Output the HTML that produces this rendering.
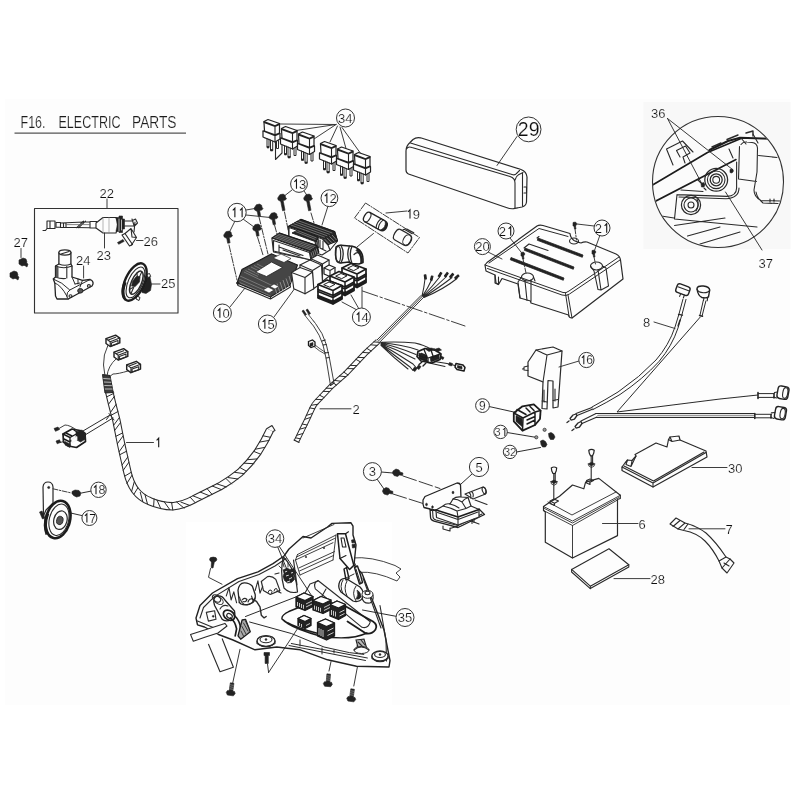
<!DOCTYPE html>
<html><head><meta charset="utf-8"><title>F16. ELECTRIC PARTS</title>
<style>
html,body{margin:0;padding:0;background:#fff;}
body{width:800px;height:800px;overflow:hidden;font-family:"Liberation Sans",sans-serif;}
svg{display:block;position:absolute;left:0;top:0;}
svg text{font-family:"Liberation Sans",sans-serif;fill:#111;stroke:#fdfdfd;stroke-width:.18px;}
.l{fill:none;stroke:#2a2a2a;stroke-width:1.1;stroke-linecap:round;stroke-linejoin:round;}
.t{fill:none;stroke:#333;stroke-width:.95;stroke-linecap:round;stroke-linejoin:round;}
.b{fill:none;stroke:#1c1c1c;stroke-width:1.4;stroke-linecap:round;stroke-linejoin:round;}
.w{fill:#fdfdfd;stroke:#2a2a2a;stroke-width:1.15;stroke-linejoin:round;}
.k{fill:#222;stroke:#222;stroke-width:.6;stroke-linejoin:round;}
.g{fill:#999;stroke:#333;stroke-width:.8;}
.n{font-size:13px;}
.c{fill:#fdfdfd;stroke:#333;stroke-width:1;}
</style></head>
<body>
<svg width="800" height="800" viewBox="0 0 800 800">
<rect x="0" y="0" width="800" height="800" fill="#ffffff"/>
<rect x="5" y="99" width="785" height="606" fill="#fdfdfd"/>
<filter id="soft" x="0" y="0" width="800" height="800" filterUnits="userSpaceOnUse"><feGaussianBlur stdDeviation="0.38"/></filter>
<g filter="url(#soft)">
<!--TITLE-->
<g id="title" style="font-size:16.3px;stroke-width:.3px">
<text x="20.500" y="127.800" textLength="25" lengthAdjust="spacingAndGlyphs" style="fill:#1c1c1c">F16.</text>
<text x="58.500" y="127.800" textLength="62" lengthAdjust="spacingAndGlyphs" style="fill:#1c1c1c">ELECTRIC</text>
<text x="132" y="127.800" textLength="44.500" lengthAdjust="spacingAndGlyphs" style="fill:#1c1c1c">PARTS</text>
<line x1="14.500" y1="133.200" x2="186" y2="133.200" stroke="#555" stroke-width="1.200"/>
</g>
<!--BOX22-->
<g id="box22">
<rect class="l" x="34.500" y="208.500" width="143.500" height="104.500" style="stroke:#333;stroke-width:1.100"/>
<line class="t" x1="107" y1="199" x2="107" y2="208"/>
<text class="n" x="99.500" y="197.500">22</text>
<!--27 + screws-->
<text class="n" x="13.500" y="247">27</text>
<line class="t" x1="21" y1="248.500" x2="21" y2="257.500"/>
<path class="k" d="M19,260 l4,-2 3,1 1,3 -2,3 -3,1 -3,-2z M25,262 l3,2 -1,3 -3,-2z"/>
<path class="k" d="M10,273 l4,-2 3,1 1,3 -2,3 -3,1 -3,-2z M16,275 l3,2 -1,3 -3,-2z"/>
<!--23 ignition switch-->
<path class="l" d="M47,221 h8 v7.500 h-8z M47,228.500 l-1.500,2 h-2.500 M50,221 v7.500"/>
<path class="l" d="M56,222.500 H60.500 V223 L90,221.800 V221.500 H97 M56,227.200 H60.500 L90,227.700 V228 H97 M56,222.500 v4.700 M60.500,222.500 v5 M63.500,223 v4.500 M66,223 v4.500 M76.500,227.900 l7,-6.700 M78.500,227.900 l7,-6.700 M90,221.500 v6.500"/>
<path class="l" d="M66,224.600 H90" style="stroke:#666;stroke-width:.8"/>
<path class="w" d="M96,223 L103,217.500 H116 Q119.500,225 116,233 H103 L96,228z"/>
<path class="l" d="M103,217.500 V233 M109,217.500 V233" style="stroke:#888;stroke-width:.6"/>
<path class="k" d="M116,217.500 h3 v-1.500 h3.500 v3 h2 v10 h-2 v3.500 h-3.500 v-1 h-3 q2.500,-7 0,-14z"/>
<path class="l" d="M119,219 v12 M121.500,220 v10" style="stroke:#ddd;stroke-width:.8"/>
<path class="l" d="M124.500,221 h7 l4,-2 2,4 -3,3 h-10 M132,219 l2.500,8 M135,222 l-1,10"/>
<!--26 bracket + screw-->
<path class="w" d="M122,235 l3,-1.500 7.500,11 -3,1.500z"/>
<path class="l" d="M125,233.500 l6,-5 5.500,9 -5,7.500 M131,228.500 l1,8.500 M136.500,237.500 l-4.500,-.5"/>
<path class="k" d="M117.500,242.500 l5.500,-3 1.200,1.800 -5.500,3z"/>
<line class="t" x1="136.500" y1="240.500" x2="143" y2="240.500"/>
<text class="n" x="143.500" y="245.500">26</text>
<line class="t" x1="104.500" y1="233" x2="104.500" y2="248"/>
<text class="n" x="96.500" y="259.500">23</text>
<!--24-->
<text class="n" x="76" y="265">24</text>
<line class="t" x1="83.600" y1="266" x2="83.600" y2="278"/>
<path class="w" d="M55.500,266 L58.900,264 V252.500 H70.900 V264 L72,266 V277 L82.500,280.300 L90,279.500 Q93.500,280.500 93,284 L92,286 L68.300,299 L57,299 L55.500,296 L54.800,283 L53.300,279 L55.500,277z" style="stroke-width:1.300;stroke:#222"/>
<ellipse class="w" cx="64.900" cy="252.500" rx="6" ry="2.600" style="stroke-width:1.200"/>
<path class="l" d="M61,254 l8,-2.600"/>
<path class="l" d="M58.900,264 q6,2.500 12,0 M55.500,266 q8.500,3.500 16.500,0 M66.800,266.500 V278 M55.500,277 q5,2 10,1.500"/>
<path d="M55.800,267 h2.700 v10.500 h-2.700z" fill="#555" stroke="none"/>
<path class="l" d="M53.300,279 Q62,282 69.800,290 L90,279.500 M54.800,283 Q61,285 66.800,296 M66.800,296 Q66.500,292 69.800,290 M66.800,296 Q67,298.500 68.300,299 M72,277 L75,284 M78,279 v5 M75,284 l5,-1 M82.500,280.300 L80,287" style="stroke-width:1"/>
<ellipse class="l" cx="88.900" cy="285.900" rx="1.500" ry="1.300"/>
<ellipse class="l" cx="70.500" cy="296" rx="1.500" ry="1.300"/>
<ellipse cx="80.300" cy="290.800" rx="2.600" ry="2.300" fill="#555" stroke="#222" stroke-width="1"/>
<!--25-->
<path class="k" d="M141.500,275.500 l5,-1.500 3.500,3 1.500,7.500 -1,6 -4.500,3 -4,-1z"/>
<path class="w" d="M146.500,274.500 l3,-1 1.200,3 -3,1z M137,296 l3,1.500 -1,3 -3,-1.500z" style="stroke-width:1"/>
<g transform="rotate(24 134.700 282)">
<ellipse cx="134.700" cy="282" rx="9.600" ry="20" fill="#fdfdfd" stroke="#1c1c1c" stroke-width="2.400"/>
<ellipse class="l" cx="135.500" cy="282" rx="7.200" ry="16.500" style="stroke-width:1.100"/>
<ellipse class="l" cx="136.500" cy="282" rx="5" ry="12.500" style="stroke-width:1.500"/>
<path d="M126,286 Q126.500,297 132,301" fill="none" stroke="#1c1c1c" stroke-width="3"/>
<path class="k" d="M134,276 l3.500,-1 1.500,5 -2,6 -3.500,1 -1,-5z"/>
<path class="l" d="M137,270 v7 M136,287 v7 M133,273 l2,3 M133,291 l2,-3"/>
</g>
<line class="t" x1="150" y1="284" x2="160" y2="284"/>
<text class="n" x="161" y="287.500">25</text>
</g>

<!--RELAYS 34-->
<defs>
<g id="f14">
<path class="w" d="M0,4.500 L9,0 L24,5.500 L24,19 L15,24 L0,18z" style="stroke:#1c1c1c;stroke-width:1.700"/>
<path class="l" d="M0,4.500 L15,10.500 L24,5.500 M15,10.500 V24 M0,9.500 L15,15.500 L24,10.500 M0,11.500 L15,17.500 L24,12.500 M0,15.500 L15,21.500 L24,16.500 M0,17 L15,23 L24,18" style="stroke:#1c1c1c;stroke-width:1.500"/>
<path class="l" d="M6,4.500 l5,-2.500 6,2.300 -5,2.700z" style="stroke:#1c1c1c;stroke-width:1"/>
</g>
<g id="cn1"><path class="w" d="M-5,-1.500 L3,-4.500 L6.500,-2 L6.500,2 L-1.500,5 L-5,2.500z" style="stroke-width:1.200;stroke:#222"/><path class="l" d="M-5,-1.500 L-1.500,1 L6.500,-2 M-1.500,1 V5 M-3,-.5 l6,-2.300 M-.5,2 l5.500,-2 v2.500 l-5.500,2z" style="stroke-width:.9"/></g>
<g id="fb"><path class="k" d="M-1.800,-8 h3.600 v8 h-3.600z M-3.500,0 h7 l1,2 -1.500,2.500 h-6 l-1.500,-2.500z"/><path d="M-1.800,-6 h3.600 M-1.800,-4 h3.600 M-1.800,-2 h3.600" stroke="#ccc" stroke-width=".5"/></g>
<g id="relay">
<path class="w" d="M-1,9.500 L0.500,9.500 L0,1 L0,0 L4,-2 L15.500,2 L15.500,12 L16,12 L16,17.500 L11,20.500 L-1,15.500z" style="stroke-width:1.200;stroke:#222"/>
<path class="l" d="M0,1 L11,5 L15.500,3 M0,0 L11,4.200 L15.500,2 M11,4.200 V20.500 M0.500,9.500 L11,13.200 L15.500,11.500 M-1,9.500 L11,14.200 L16,12" style="stroke-width:1.100;stroke:#222"/>
<path class="l" d="M3,17 v8.500 h2 v-7.800 M6.500,18.500 v10 h2.200 v-9 M12.500,20 v7 h2 v-8" style="stroke-width:1"/>
<path class="k" d="M3,25 h2 v1.500 h-2z M6.500,28 h2.200 v1.500 h-2.200z"/>
</g>
<g id="bolt">
<path class="k" d="M-2.800,-1.500 l1.200,-1.800 3.200,-.6 2,1.200 .4,2 1,1.200 -1.200,1.600 -5.200,1 -2,-1.200 -.4,-1.800z"/>
<path class="k" d="M-.9,2.800 l2.500,-.5 1.900,10 -2.400,.5z"/>
</g>
<g id="bolts">
<path class="k" d="M-2.800,-1.500 l1.200,-1.800 3.200,-.6 2,1.200 .4,2 1,1.200 -1.200,1.600 -5.200,1 -2,-1.200 -.4,-1.800z"/>
<path class="k" d="M-.9,2.800 l2.500,-.5 1,5.500 -2.400,.5z"/>
</g>
</defs>
<g id="relays">
<path class="t" d="M336,124.500 L280,124 M336,124.500 L296,130.500 M336,124.500 L314,139 M337.500,126 L330,142 M340,127 L346,148.500 M342,127.500 L361,154" style="stroke:#333"/>
<use href="#relay" x="264" y="121.500"/>
<path class="l" d="M275.500,142 V159.500 L282,153 V139"/>
<use href="#relay" x="281.500" y="128.500"/>
<use href="#relay" x="298.500" y="134"/>
<use href="#relay" x="320.500" y="143.500"/>
<use href="#relay" x="337.500" y="149"/>
<use href="#relay" x="354.500" y="154.500"/>
<circle class="c" cx="345.500" cy="118" r="9"/>
<text class="n" x="338" y="122.800">34</text>
</g>
<!--PARTS 10-15-->
<g id="regs">
<!-- leaders -->
<path class="t" d="M246,210 L255,208.500 M246,215 L270,217.500 M243,219 L254,227 M235,221 L229,233 M292,190 L283,197 M304,191 L307.500,196 M328,206 L322,225 M230,307 L245,288 M274,317 L298,284 M357,310 L342,302 M359,309 L351,295 M362,308 L362,287 M357,247 L373.500,233.500" style="stroke:#333"/>
<!-- dash-dot mounting lines -->
<path class="t" d="M259,217 L268,254 M274.500,225 L277,234 M257.500,237 L263,255 M229,245 L237,280 M284.500,212 L289,234 M311,213 L314,223" style="stroke:#333;stroke-dasharray:7 1.500 1.500 1.500"/>
<use href="#bolts" x="258" y="208"/>
<use href="#bolts" x="273" y="216.500"/>
<use href="#bolts" x="256.500" y="228"/>
<use href="#bolts" x="227.500" y="235"/>
<use href="#bolt" x="281.500" y="198"/>
<use href="#bolt" x="307.500" y="198"/>
<!-- rear fin block 12 -->
<path class="w" d="M288.300,226.400 L300.900,219.400 L334.700,231.600 L337.500,241 L330,250 L289,238z"/>
<path d="M288.300,226.400 L300.900,219.400 L334.700,231.600 L337.500,241 L328.100,244.700 L322.500,238.100z" fill="#262626" stroke="#1c1c1c" stroke-width="1"/>
<path d="M298.400,220.800 L332.300,233 M295.900,222.200 L329.800,234.400 M293.400,223.600 L327.300,235.800 M290.900,225 L324.800,237.200" stroke="#aaa" stroke-width=".55" fill="none"/>
<path d="M324.500,239 l5,5.200 M327,237.800 l5,5 M329.500,236.500 l5,4.800 M332,235 l4.500,5" stroke="#bbb" stroke-width=".6" fill="none"/>
<!-- white face between -->
<path class="w" d="M289,227.500 L322.500,239 L328,245 L330,250 L322,255 L289,243z"/>
<path d="M292,233 L299,229.500 L318,237 L319,247.500 L316,249 L315,241.500z" fill="#262626" stroke="#1c1c1c" stroke-width=".9"/>
<path d="M297.500,230.500 L316.500,238 M295.500,231.500 L315.500,239.500 M316.200,242 l1.500,6 M317.500,240 l1,6.500" stroke="#aaa" stroke-width=".55" fill="none"/>
<path class="l" d="M320,240 v8 l6,3 M323,241 v8.500"/>
<!-- middle fin block -->
<path class="w" d="M271.900,238.100 L279.400,233 L316.900,245.600 L318.800,252.200 L311,260 L273.500,252z"/>
<path d="M271.900,238.100 L279.400,233 L316.900,245.600 L318.800,252.200 L311.300,257.800 L309.400,251.300z" fill="#262626" stroke="#1c1c1c" stroke-width="1"/>
<path d="M277.900,234 L315.400,246.600 M276.400,235 L313.900,247.700 M274.900,236.100 L312.400,248.800 M273.400,237.100 L310.900,249.900" stroke="#aaa" stroke-width=".55" fill="none"/>
<path d="M311,252.300 l1.500,5.200 M312.800,251 l1.500,5.500 M314.600,249.700 l1.500,5.500 M316.200,248.500 l1.500,5" stroke="#bbb" stroke-width=".6" fill="none"/>
<path class="w" d="M273.500,240.500 L309.400,252.500 L311,260 L303,258 L273.500,251z"/>
<path class="l" d="M279,245 v7 M279,247 l24,8.500 M283,250 l17,6"/>
<!-- front fin block 10 -->
<path d="M237,283 L242,269.500 L271.500,253.800 L297.500,265 L290,285 L270.500,297z" fill="#444" stroke="#1c1c1c" stroke-width="1.100"/>
<path d="M244,272 L272,285.500 M245.500,270.500 L258,276.500 M248,269 L259,274.500 M251,267 L262,272.500 M254,265.500 L265,271 M257,264 L268,269.500 M240,276 L271,290 M239,279 L270.500,293 M238.500,282 L270.500,296" stroke="#aaa" stroke-width=".5" fill="none"/>
<path d="M274,285 l3,9 M277,283.500 l3,9 M280,282 l3,9 M283,280 l3,9 M286,278.500 l3,8 M289,276 l2,7 M292,273 l1.500,5" stroke="#bbb" stroke-width=".6" fill="none"/>
<path d="M255.500,272 L271.500,262 L282.500,267.500 L266.500,276.500z" fill="#fdfdfd" stroke="#222" stroke-width=".8"/>
<path d="M273,258 l8,-4 10,4.500 -7,4z" fill="#fdfdfd" stroke="#222" stroke-width=".7"/>
<path d="M263,290 l5,-3 6,3 -5,3z M270,286.500 l4,-2.500 5,2.500 -4,2.500z" fill="#fdfdfd" stroke="#222" stroke-width=".6"/>
<path class="l" d="M237,283 L238,285.500 L270.500,299 L290.500,287 L290,285 M270.500,297 v2"/>
<circle class="k" cx="238" cy="283" r="1.300"/>
<!-- boxes 15 -->
<path class="w" d="M311,258.800 L317.500,255 L329,260 L329.500,276 L323,281 L311,275z"/>
<path class="l" d="M311,258.800 L322.500,264 L329,260 M322.500,264 V281"/>
<path class="w" d="M300,265 L310,260 L321.500,265 L322.500,282.500 L313,289 L300,283z"/>
<path class="l" d="M300,265 L312.500,270.500 L321.500,265 M312.500,270.500 L313,289"/>
<path class="w" d="M291.500,272.500 L300,267.500 L312.500,272 L313.800,288.800 L305,293.800 L293.800,288.800z"/>
<path class="l" d="M291.500,272.500 L305,277.500 L312.500,272 M305,277.500 V293.800"/>
<!-- round starter relay -->
<path class="w" d="M336,247 Q338,245 341,245.300 L352,246.300 Q358,247.500 361,252 Q363.500,256 363,262.500 L359,264 L352,263.500 L349,262 L340,263 Q336,262.500 335.500,255 Q335.500,250 336,247z" style="stroke-width:1.500;stroke:#1c1c1c"/>
<ellipse class="l" cx="338.200" cy="254.300" rx="2.500" ry="7.800" style="stroke-width:1.200"/>
<path class="l" d="M341,245.300 Q345.500,254 341,263 M349.500,246 Q346,254 349.500,262 M352,246.300 Q348.500,254 352,263.500" style="stroke-width:1.300"/>
<path class="l" d="M354,254.500 Q357,251.500 359.500,253.500 Q361.500,257 361,263" style="stroke-width:1.200"/>
<path class="k" d="M357.500,248.500 Q362,252 363,262.500 L361,263 Q361.500,255 356,250.500z"/>
<!-- fuse blocks 14 -->

<path class="w" d="M324,268 l5,-3 6,2.500 v6 l-5,3 -6,-2.500z" style="stroke:#1c1c1c;stroke-width:1.200"/>
<path class="l" d="M324,268 l6,2.500 5,-3 M330,270.500 v6"/>
<use href="#f14" x="342" y="263.500"/>
<use href="#f14" x="330" y="271.500"/>
<use href="#f14" x="318" y="280"/>
<!-- 19 -->
<path class="t" d="M365.500,203 L354.500,218 L408,253 L419.500,237.500z" style="stroke:#333;stroke-dasharray:7 1.500 1.500 1.500"/>
<g transform="rotate(29 375.800 221.800)">
<path class="w" d="M366,216.500 h17 q5,0 5,5.300 t-5,5.300 h-17 q-3,0 -3,-5.300 t3,-5.300z" style="stroke-width:1.300;stroke:#222"/>
<path class="l" d="M366,216.500 q3,0 3,5.300 t-3,5.300 M379,216.500 q-2.500,5.300 0,10.600 M381.500,216.500 q-2.500,5.300 0,10.600" style="stroke-width:1.100"/>
<path class="k" d="M384,217 q3.500,4.800 0,9.600 q4,-.5 4,-4.800 t-4,-4.800z"/>
</g>
<g transform="rotate(29 403.500 238)">
<path class="w" d="M397,232 h10 q4.500,0 4.500,6 t-4.500,6 h-10 q-3.500,0 -3.500,-6 t3.500,-6z" style="stroke-width:1.200"/>
<ellipse class="l" cx="407.500" cy="238" rx="3.600" ry="5.600"/>
<path class="l" d="M400,230 h9 M402,228.500 h8 M399,231 l1,-1"/>
</g>
<line class="t" x1="386" y1="213" x2="407" y2="211" style="stroke:#333"/>
<text class="n" x="405.5" y="218.5" font-size="12.500"><tspan style="fill:none;stroke:none">1</tspan>9</text><path d="M408.00,211.88 L410.00,209.75 V218.50" fill="none" stroke="#161616" stroke-width="1.06" stroke-linejoin="miter"/>
<!-- circles -->
<circle class="c" cx="299" cy="184" r="8.400"/><text class="n" x="291.8" y="188.8"><tspan style="fill:none;stroke:none">1</tspan>3</text><path d="M294.40,181.91 L296.48,179.70 V188.80" fill="none" stroke="#161616" stroke-width="1.10" stroke-linejoin="miter"/>
<circle class="c" cx="329.400" cy="198.200" r="8.400"/><text class="n" x="322.2" y="203"><tspan style="fill:none;stroke:none">1</tspan>2</text><path d="M324.80,196.11 L326.88,193.90 V203.00" fill="none" stroke="#161616" stroke-width="1.10" stroke-linejoin="miter"/>
<circle class="c" cx="237" cy="212.500" r="9.200"/><text class="n" x="230.2" y="217.2"><tspan style="fill:none;stroke:none">1</tspan><tspan style="fill:none;stroke:none">1</tspan></text><path d="M232.80,210.31 L234.88,208.10 V217.20" fill="none" stroke="#161616" stroke-width="1.10" stroke-linejoin="miter"/><path d="M240.03,210.31 L242.11,208.10 V217.20" fill="none" stroke="#161616" stroke-width="1.10" stroke-linejoin="miter"/>
<circle class="c" cx="222.400" cy="313" r="9"/><text class="n" x="215.2" y="317.8"><tspan style="fill:none;stroke:none">1</tspan>0</text><path d="M217.80,310.91 L219.88,308.70 V317.80" fill="none" stroke="#161616" stroke-width="1.10" stroke-linejoin="miter"/>
<circle class="c" cx="267.400" cy="324" r="9"/><text class="n" x="260.2" y="328.8"><tspan style="fill:none;stroke:none">1</tspan>5</text><path d="M262.80,321.91 L264.88,319.70 V328.80" fill="none" stroke="#161616" stroke-width="1.10" stroke-linejoin="miter"/>
<circle class="c" cx="361.400" cy="317" r="9"/><text class="n" x="354.2" y="321.8"><tspan style="fill:none;stroke:none">1</tspan>4</text><path d="M356.80,314.91 L358.88,312.70 V321.80" fill="none" stroke="#161616" stroke-width="1.10" stroke-linejoin="miter"/>
</g>

<!--PART 29-->
<g id="p29">
<path class="w" d="M406,151 Q406,146 410,142.500 L413,139.500 Q416,137 420.500,137.800 L521,169.500 Q526.500,171.500 527,177 L526.500,202 Q526,206 522,207 L513.500,208.700 Q510,209 507,207.800 L408.500,174 Q406,173 406,170 Z" style="stroke-width:1.200"/>
<path class="l" d="M406.500,149 Q408,146 412,147.500 L510,176.500 Q515,178 515,183 L515,208 M410.500,143 L512,174.500 Q515,175.500 516.500,173.500 L519.500,170.500 M515,180 Q516,176 519,174.500 L523,172.500 M522.500,173 v33 M524,187 h2.500 v6 h-2.500"/>
<line class="t" x1="517" y1="136.500" x2="497" y2="165.500" style="stroke:#333"/>
<circle class="c" cx="528.600" cy="129.400" r="12.400"/>
<text x="517.800" y="136.300" font-size="19.500">29</text>
</g>
<!--PART 20/21-->
<g id="p20">
<path class="w" d="M485,265 L487,262.500 L537,226 Q539.500,224.500 543,225.500 L570,233.500 Q570.500,238 574,240.500 Q578,242.500 581,243 Q584,241.500 587,242 L616,254 Q620,256 620.500,260 L623,279 L572,318 Q569,318 568.500,315 L531,303 L530.500,301 L520,298 L518,284 L502,278.500 L498.500,284.500 L496,283 L495,275 L486,271z" style="stroke-width:1.200"/>
<path class="l" d="M485,265 L563,292.500 Q566,293.500 569,291 L619,257 M487.500,268.500 L562,295 Q566,296.500 569.500,294 L620,260 M565.500,293.500 L569,316 M568,295 L572,318 M489,263 L539,228.500 L568,236.500" style="stroke-width:1"/>
<path d="M538,238 L583,255 L582.300,257.300 L537.300,240.300z M525,248 L574,267 L573.300,269.300 L524.300,250.300z M511,257.500 L564,278 L563.300,280.300 L510.300,259.800z" fill="#222" stroke="#222" stroke-width=".8"/>
<path class="l" d="M524,248 L529,244 L548,250.500 M537,238 l2,-1.500"/>
<ellipse class="l" cx="574" cy="241" rx="4.500" ry="3"/>
<ellipse class="l" cx="596.500" cy="266" rx="6" ry="4"/>
<ellipse class="l" cx="527.500" cy="277" rx="6" ry="4"/>
<path class="l" d="M521.500,277 L518,282 L520,298 M525,281 L527,300.500 M531,280 L531,301 M533.500,277 L535,281 M590.500,266 L594,271 L598,289.500 M598,270 L601,290 L608.500,286 L606,268 L602.500,266 M598,289.500 l3,.5"/>
<path class="l" d="M495,275 v8 l3.500,1.500 M498.500,277 v7"/>
<!-- screws -->
<path class="k" d="M573,222.500 l2.500,-.5 1.500,2 -1.500,2 -2.500,0z M574,226 l1.500,0 .5,3 -1.500,0z"/>
<path class="k" d="M592,250.500 l2.500,-.5 1.500,2 -1.500,2 -2.500,0z M593,254 l1.500,0 .5,3 -1.500,0z"/>
<path class="k" d="M521,252.500 l2.500,-.5 1.500,2 -1.500,2 -2.500,0z M522,256 l1.500,0 .5,3 -1.500,0z"/>
<path class="t" d="M575,229 L576.500,240 M594,257 L595.500,264 M523,259 L526,273" style="stroke:#333;stroke-dasharray:5 1.500 1.500 1.500"/>
<path class="t" d="M510,238 L521,252 M594,226 L577,224 M600,235 L594.500,250.500 M488,252 L502,259" style="stroke:#333"/>
<circle class="c" cx="506" cy="231" r="8"/><text class="n" x="498.8" y="235.7">2<tspan style="fill:none;stroke:none">1</tspan></text><path d="M508.63,228.81 L510.71,226.60 V235.70" fill="none" stroke="#161616" stroke-width="1.10" stroke-linejoin="miter"/>
<circle class="c" cx="602" cy="228" r="8"/><text class="n" x="594.8" y="232.7">2<tspan style="fill:none;stroke:none">1</tspan></text><path d="M604.63,225.81 L606.71,223.60 V232.70" fill="none" stroke="#161616" stroke-width="1.10" stroke-linejoin="miter"/>
<circle class="c" cx="482.400" cy="246.600" r="8"/><text class="n" x="475.200" y="251.300">20</text>
</g>

<!--DETAIL 36/37-->
<g id="detail">
<rect x="643.500" y="102" width="147" height="147" fill="#f8f8f8"/>
<clipPath id="dc"><circle cx="718" cy="182" r="65"/></clipPath>
<circle cx="718" cy="182" r="65.500" fill="#fbfbfb" stroke="#333" stroke-width="1.100"/>
<g clip-path="url(#dc)">
<!-- band -->
<path class="b" d="M650,186.500 L707.500,152.500 L741,138.500 M652,203 L736,159.500" style="stroke-width:1.600"/>
<path class="b" d="M709.500,150 L728,141 L740,137.800 L770,138.800" style="stroke-width:2"/>
<path class="l" d="M712,147 l9,-4 M727,139.500 l11,-4.500 M746,133 l7,-2 v5" style="stroke-width:1.400"/>
<!-- connector -->
<path class="l" d="M666.500,149 L682.500,141 L693,152 M666.500,149 L673,165 M676.500,150.500 L685.500,146 L690,153 L683,157 M676.500,150.500 L680,157 M683,157 L685,163"/>
<!-- bearings -->
<circle class="l" cx="716.200" cy="179.800" r="11.400" style="stroke-width:1.300"/>
<circle class="l" cx="716.200" cy="179.800" r="8.800"/>
<circle class="l" cx="716.200" cy="179.800" r="6" style="stroke-width:1.300"/>
<circle class="l" cx="716.200" cy="179.800" r="3.400"/>
<circle class="l" cx="691" cy="205" r="9.600" style="stroke-width:1.200"/>
<circle class="l" cx="691" cy="205" r="7"/>
<circle class="l" cx="691" cy="205" r="3"/>
<path class="l" d="M697,199 q3,6 -1,12"/>
<!-- housing -->
<path class="l" d="M677,194.600 L727,196.400 Q736.500,196 736.600,188 L736.600,162 M679,197 L726,198.800 Q739,198 739,188 M677,194.600 L674.500,219 L757,227 M681,190 L703,191.500 M674.500,225.500 L725,218 M687.500,236 L720,227 M700,244 L740,232 M655,215 L674,218"/>
<!-- right hook -->
<path class="l" d="M741,144.500 Q743,141.500 747,142 L752,142.500 Q757,143 757.500,148 L757,172 L754,190 Q754,197 761,200.500 L780,201 M739.500,146.500 L738.500,179 L756.500,181.500 M758.500,155.500 L777,157.500 M756,192 Q757,198 763,203 L778,203.500 M770,199 v3 M774,199 v3"/>
<path class="l" d="M741,138 L746,144 M729,149 L733,158 M753,134 L758,143"/>
<!-- small bolts -->
<path class="k" d="M701,183.500 l2.500,-1 1.500,2 -1,2.500 -2.500,0z M730,169.500 l2.500,-.5 1,2 -1.500,2 -2,-.5z"/>
<path class="l" d="M698,180 l3,3 M704,188 l2,2"/>
</g>
<path class="t" d="M667.500,118.500 L702.500,185 M667.500,118.500 L732.500,169.500 M762,250 L725.500,192" style="stroke:#222;stroke-width:.9"/>
<text class="n" x="651" y="117.500">36</text>
<text class="n" x="758.500" y="267.500">37</text>
</g>

<!--CABLES 8-->
<g id="cab8">
<path class="l" d="M683,299 L678.900,314.400 L675,327 Q669,345 656,360 Q640,377 618,392 Q605,400 592,407 M686,299.400 L681.900,314.800 L678,328 Q672,346 659,361.500 Q643,379 620,394.500 Q606,403 593,409.500" style="stroke-width:1"/>
<path class="l" d="M678.500,314.300 l4,.8 M680,320 l-2,6" style="stroke-width:1.300"/>
<path class="l" d="M592,407.500 L576,413.500 M593,409 L577,415.500"/>
<path class="l" d="M576,414 l-3,1 -3,3.500 1,1.500 3.500,-1 2.500,-3.500z M569,421 l-2,1.500" style="stroke-width:1.300"/>
<path class="l" d="M703.300,300.500 L699.900,315.500 M705.900,300.900 L702.100,315.900 M700.300,317 L617,412 L720,399 L758,395" style="stroke-width:1"/>
<path class="l" d="M699.500,315.500 l3,.8" style="stroke-width:1.500"/>
<path class="l" d="M596,413.500 H754.600 M596.500,417.500 H754.600" style="stroke-width:1"/>
<path class="l" d="M598,415.500 H754" style="stroke:#999;stroke-width:1.600"/>
<path class="l" d="M596,413.500 L581,421 M597,417 L582,423.500"/>
<path class="l" d="M581,421.500 l-3,1.500 -3,3.500 1,1.500 3.500,-1 2.500,-3.500z M574,429 l-2,1.500" style="stroke-width:1.300"/>
<path class="l" d="M758,393.600 H774.500 M758,397.400 H774.500 M754.600,414.300 H771.500 M754.600,417.800 H771.500" style="stroke-width:1"/>
<path class="l" d="M758,392.500 v6 M754.800,413.500 v5 M774,394 v4 M771,414.500 v3.500" style="stroke-width:1.600"/>
<!-- caps -->
<g transform="rotate(20 682.500 290)"><rect class="w" x="676" y="285" width="13.500" height="9" rx="2.500" style="stroke-width:1.400;stroke:#222"/><path class="l" d="M677,288.500 h11.500 M682,294 v3 M686,294 v3"/></g>
<path class="w" d="M697,289 Q697,285.500 703.300,286 Q709.500,286.800 709.700,290 L708.500,296.800 Q706,298.500 702,297.500 Q698,296 697,289z" style="stroke-width:1.400;stroke:#222"/>
<path class="l" d="M697,289 Q698,292.500 703.500,292.800 Q709,292.500 709.700,290 M704,297.500 l-.5,3 M707.700,297.300 l-.5,3.500"/>
<g transform="rotate(10 783 392.500)"><rect class="w" x="777.500" y="386.300" width="11" height="12.700" rx="3" style="stroke-width:1.400;stroke:#222"/><ellipse class="l" cx="785.300" cy="392.600" rx="2.500" ry="5.400"/><path class="l" d="M774.500,394 l3,-1 M774.500,398.500 l3,.5"/></g>
<g transform="rotate(10 780.500 413)"><rect class="w" x="775" y="407" width="11" height="12.500" rx="3" style="stroke-width:1.400;stroke:#222"/><ellipse class="l" cx="782.700" cy="413.200" rx="2.500" ry="5.300"/><path class="l" d="M771.500,414.500 l3.500,-1 M771.500,419 l3.500,.5"/></g>
<line class="t" x1="654" y1="322" x2="675" y2="328.500" style="stroke:#333"/>
<text class="n" x="643" y="326.500">8</text>
</g>
<!--PART 16-->
<g id="p16">
<path class="w" d="M536,350 L553,347 L562,351 L560,379 L558,407 L553,408 L553,381 L548,380.500 L547,409 L542,408.500 L543,382 L528,376 L528,362z" style="stroke-width:1.200"/>
<path class="l" d="M536,350 L547,355 L562,351 M547,355 L543,382 M542,401 l5,1 M553,400.500 l5,-1 M544,390 v12 M555,389 v12"/>
<path class="l" d="M528,366 l-4,1 v3 l4,.5 M524,368.500 l-1.500,.5"/>
<line class="t" x1="579" y1="361" x2="559" y2="367" style="stroke:#333"/>
<circle class="c" cx="586.400" cy="360" r="7.600"/><text x="579.5" y="364.3" font-size="12"><tspan style="fill:none;stroke:none">1</tspan>6</text><path d="M581.90,357.94 L583.82,355.90 V364.30" fill="none" stroke="#161616" stroke-width="1.02" stroke-linejoin="miter"/>
</g>
<!--PART 9,31,32-->
<g id="p9">
<path d="M513.800,413 L522.500,406.300 L533.800,404.400 L540.600,410.600 L540,419 L535,425 L522.500,430.600 L513.800,421.300z" fill="#fdfdfd" stroke="#1a1a1a" stroke-width="1.800" stroke-linejoin="round"/>
<path class="b" d="M513.800,413 L523,418 L535,412 L540.600,410.600 M523,418 L522.500,430.600 M517,409.500 L526,414.500 M526,408 l4,4 M530,406.500 l4,4 M527,420 l8,-3.500 M527,424 l8,-4 M535,412 v13" style="stroke-width:1.500"/>
<path class="k" d="M516,415.500 l6,3 v8 l-6,-5z"/>
<line class="t" x1="489" y1="406.500" x2="516" y2="412.500" style="stroke:#222"/>
<line class="t" x1="507" y1="432.500" x2="535" y2="437.200" style="stroke:#222"/>
<line class="t" x1="516.500" y1="452" x2="540.500" y2="447.500" style="stroke:#222"/>
<circle class="g" cx="544.600" cy="429.800" r="1.600"/><circle class="g" cx="536.300" cy="437.300" r="1.600"/>
<path class="k" d="M548.500,433.500 l2.500,-1 2.500,1.500 1.500,3 -1.500,2.500 -3,0 -1.500,-2.500z M540.500,441 l2.500,-1 2.500,1.500 1.500,3 -1.500,2.500 -3,0 -1.500,-2.500z"/>
<circle class="c" cx="482.500" cy="405.600" r="6.900"/><text x="479" y="410" font-size="12">9</text>
<circle class="c" cx="500.600" cy="431.900" r="6.700"/><text x="494.3" y="436" font-size="11.500">3<tspan style="fill:none;stroke:none">1</tspan></text><path d="M502.99,429.90 L504.83,427.95 V436.00" fill="none" stroke="#161616" stroke-width="0.98" stroke-linejoin="miter"/>
<circle class="c" cx="510" cy="451.900" r="6.700"/><text x="503.700" y="456" font-size="11.500">32</text>
</g>
<!--PART 30-->
<g id="p30">
<path class="w" d="M622,467 L625,463 L627.500,460 L632,460.500 L636,456 L635,454.500 L656,443 L667,447 L668.500,439.500 L670,437 L679,436 L680,440 L706,451 L707,457 L653,487 L622,470.500z" style="stroke-width:1.200"/>
<path class="l" d="M622,467 L653,483 L706,452.500 M624,466 L653.500,481 L704,452 M653,483 V487 M627.500,460 L626,464.500 L631,466.500 L632,460.500 M636,456 L631,466.500 M670,437 L672,441.500 L680,440 M668.500,439.500 l3.500,2"/>
<line class="t" x1="692" y1="467.500" x2="727" y2="467.500" style="stroke:#333"/>
<text class="n" x="728" y="472.500">30</text>
</g>
<!--BATTERY 6-->
<g id="p6">
<path class="w" d="M543.500,506.500 L549,502.800 L559.500,496.300 L572.500,485 L583.800,488.800 L585.600,482.200 L598.800,478.400 L620.300,495.300 L620.300,498.500 L617.500,499.500 L617.500,535.600 L572.500,558 L545.300,542.200 L545.300,512 L543.500,510.500z" style="stroke-width:1.200"/>
<path class="l" d="M543.500,506.500 L572.500,521 L620.300,495.300 M544.500,508.500 L572.500,523 L619,497.500 M543.500,510.500 L572.500,525.500 L617.500,500 M572.500,525.500 V558 M548,502 L572,515 L616,492" style="stroke-width:.9"/>
<path class="l" d="M550,501 l4,-2 4.500,2 -4,2.200z M550,501 v2.500 l4.500,2 v-2.300 M586.500,480.500 l3.500,-1.500 3.500,1.500 -3.500,1.800z M586.500,480.500 v2.500 l3.500,1.500 v-2.200"/>
<path class="l" d="M553.800,473 V500 M555.200,473 V482 M591.200,455 V479 M592.600,455 V464"/>
<path class="w" d="M551.300,468 q2.700,-2 5.400,0 l-.5,3 -1.200,2.500 h-2 l-1.200,-2.500z M588.800,450.300 q2.700,-2 5.400,0 l-.5,3 -1.200,2.500 h-2 l-1.200,-2.500z" style="stroke-width:1.200;stroke:#222"/>
<path class="k" d="M550.300,481.800 l3.700,-1.700 3.700,1.700 -3.700,1.800z M587.800,464 l3.700,-1.700 3.700,1.700 -3.700,1.800z"/>
<path class="l" d="M551.300,482.800 v1 l2.700,1.500 2.700,-1.500 v-1 M588.800,465 v1 l2.700,1.500 2.700,-1.500 v-1" style="stroke-width:.8"/>
<line class="t" x1="602.500" y1="523.500" x2="638" y2="523.500" style="stroke:#333"/>
<text class="n" x="638.500" y="528.500">6</text>
</g>
<!--PAD 28-->
<g id="p28">
<path class="w" d="M571.600,569.400 L609,548.800 L628.800,564.700 L628.800,567 L590.300,588.600 L571.600,572z" style="stroke-width:1.100"/>
<path class="l" d="M571.600,569.400 L590.300,586.200 L628.800,564.700 M590.300,586.200 v2.400"/>
<line class="t" x1="614" y1="578.600" x2="650" y2="578.600" style="stroke:#333"/>
<text class="n" x="650.500" y="583.500">28</text>
</g>
<!--STRAP 7-->
<g id="p7">
<path class="w" d="M670,524 L676,518 L685,523 Q698,526.500 706,533 Q716,542 726,557 L730,559 L734,563 L727,573 L722,568 L719,561 Q713,549 705,541 Q697,533 684,530.500 L678,529z" style="stroke-width:1.100"/>
<path class="l" d="M685,523 L678,529 M680,520.500 L673,526.500 M726,557 L719,561 M730,559 L722,568 M729,566 L724,563 M688,524 l-4,5.500"/>
<line class="t" x1="689" y1="528.800" x2="725" y2="528.800" style="stroke:#333"/>
<text class="n" x="725.500" y="533.500">7</text>
</g>

<!--PART 3,5-->
<g id="p5">
<path class="t" d="M403,476 L440,488.500 M393,494 L423,503.500" style="stroke:#222;stroke-width:.9;stroke-dasharray:14 3"/>
<path class="t" d="M381,472 L393,473 M377,479 L384,489 M472,474 L460.500,484.500" style="stroke:#222"/>
<path class="k" d="M393,471 l3,-2 3,1 1,2 3,1 -.5,2.500 -3,-.5 -2,1.500 -3.500,-1 -1.500,-2.500z"/>
<path class="k" d="M383,489.500 l3,-2 3,1 1,2 3,1 -.5,2.500 -3,-.5 -2,1.500 -3.500,-1 -1.500,-2.500z"/>
<!-- bracket -->
<path class="w" d="M430,509 L430.500,517 Q430.500,520 434,521 L458,527.500 L484.500,514.500 L479,509 L458,517z" style="stroke-width:1.300;stroke:#222"/>
<path class="w" d="M423,500 L425,496.500 L457,483 Q460,483 460.500,485 L461,498 L437,510.500 L430,509 L424,507.500 Q422.500,504 423,500z" style="stroke-width:1.300;stroke:#222"/>
<path class="l" d="M432.500,509.500 L433,517 Q433,519 436,520 L458,525.500 L482,514"/>
<ellipse class="k" cx="426.500" cy="504.500" rx=".9" ry="1.300"/><ellipse class="k" cx="453" cy="492.500" rx=".9" ry="1.300"/><ellipse class="k" cx="432.500" cy="507" rx=".8" ry="1.200"/>
<!-- cylinder -->
<path class="w" d="M465,494 L483,487 Q487,488 485.500,494 L473,499z"/>
<ellipse class="l" cx="484.200" cy="490.500" rx="1.800" ry="3.500" transform="rotate(-20 484.200 490.500)"/>
<path class="l" d="M469,492.500 q2.500,2 1.500,5.500 M471.500,491.500 q2.500,2 1.500,5.500 M475,500 L487,504.500 M466,519 L479,524"/>
<!-- coil -->
<path class="w" d="M436,510 L443,506 Q446,503 450,504 L453,499 Q456,496.500 461,497 L468,497.500 L471,506 L479,509.500 L479,517 L458,525 L436.500,517.500z" style="stroke-width:1.200"/>
<path class="b" d="M436,510 L458,517 L479,509.500" style="stroke-width:1.800"/>
<path class="l" d="M458,517 V525 M437.500,512.500 L458,519.500 L478,512 M443,506 Q450,507.500 457,511 L458,517 M450,504 Q455,505 459,508 M453,499 Q458,499 462,502 L466,508.500 L471,506 M462,502 Q464,499 468,497.500 M457,511 L466,508.500"/>
<path class="l" d="M443,526 v3 l7,2 v-3 M450,528.500 l8,-2.500 M472,520 v3.500 M474,519 v3.500"/>
<circle class="c" cx="372.400" cy="471.600" r="9"/><text class="n" x="368.800" y="476.400">3</text>
<circle class="c" cx="479" cy="467" r="9.600"/><text class="n" x="475.400" y="471.800">5</text>
</g>

<!--HARNESS 1-->
<g id="h1">
<path id="h1p" d="M109.300,392 Q111.500,402 116.300,420 L121.300,445 L127.500,472.500 Q130,483 135,490 Q141,498 150,501.300 Q161,506 172.500,506.300 Q184,505 195,498.800 L220,486.300 Q231,480 240,472.500 Q250,463 257.500,452.500 Q265,441 270,430" fill="none"/>
<use href="#h1p" style="stroke:#2a2a2a;stroke-width:8.400;fill:none;stroke-linecap:butt"/>
<use href="#h1p" style="stroke:#fdfdfd;stroke-width:6.300;fill:none;stroke-linecap:butt"/>
<path class="l" d="M107.2,396.6 L113.9,393.3 M108.7,404.0 L114.5,396.2 M110.7,412.1 L116.2,404.2 M111.4,415.1 L118.0,411.5 M113.7,425.2 L119.5,417.4 M114.7,430.4 L120.5,422.6 M115.9,436.3 L122.6,432.9 M117.4,443.7 L123.1,435.9 M119.1,451.8 L124.7,443.9 M119.8,454.7 L126.4,451.3 M122.1,465.0 L127.7,457.1 M123.3,470.2 L128.9,462.2 M124.8,476.1 L131.2,472.3 M126.9,483.4 L132.0,475.2 M131.6,491.4 L134.2,482.0 M133.9,494.2 L137.9,487.8 M142.8,501.7 L140.3,492.4 M147.5,504.1 L145.0,494.7 M153.6,506.3 L154.1,498.9 M160.8,508.7 L156.9,499.8 M169.8,509.6 L164.1,501.7 M172.8,510.0 L171.6,502.6 M184.1,508.1 L176.6,502.0 M189.9,505.5 L180.9,502.1 M195.2,502.7 L190.2,497.2 M201.9,499.4 L192.9,495.8 M209.3,495.7 L200.3,492.1 M212.0,494.3 L207.1,488.7 M221.4,489.6 L212.4,486.1 M226.2,486.9 L217.0,483.9 M231.4,483.9 L226.1,478.6 M237.9,479.0 L228.3,477.6 M244.2,473.7 L234.6,472.3 M246.4,471.2 L239.9,467.5 M253.9,463.7 L244.2,463.2 M257.1,458.9 L247.5,459.7 M260.7,454.2 L253.8,451.4 M264.8,447.4 L255.3,449.2 M269.1,440.4 L259.6,442.1 M270.4,437.3 L263.1,435.8" style="stroke-width:1"/>
<path class="l" d="M267,428.500 l5,-3 3,5 -2,1" />
<!-- boot -->
<path d="M102.500,374.500 L110,375.500 L113.200,392.500 L105,393z" fill="#3a3a3a" stroke="#222" stroke-width="1"/>
<path d="M103.300,378.500 l7.300,.5 M103.800,382 l7.500,.3 M104.300,385.500 l7.600,.2 M104.800,389 l7.800,0" stroke="#ddd" stroke-width=".8" fill="none"/>
<!-- connector wires -->
<path class="l" d="M108,345 Q103,355 103.500,365 L105,376 M116,359 Q108,366 107,376 M128,371 Q118,374 113,374 L109,377" style="stroke-width:.9"/>
<!-- connectors -->

</g>
<use href="#cn1" transform="translate(112,340.500) scale(1.2)"/>
<use href="#cn1" transform="translate(120,354) scale(1.2)"/>
<use href="#cn1" transform="translate(132.700,366.700) scale(1.2)"/>
<g id="h1b">
<!-- branch -->
<path class="l" d="M110,415 L83,431 M113,418 L85,435 M109,413.500 l5,6.500 M106.500,419.500 l3,-4" style="stroke-width:1"/>
<path d="M63,434 l9,-5 8,1.500 5,3 .5,8 -9,6 -8,-1.500 -5,-4z" fill="#fdfdfd" stroke="#1a1a1a" stroke-width="1.700" stroke-linejoin="round"/>
<path class="b" d="M63,434 l7,3.500 9,-5 M70,437.500 v8.500 M66,433 l6,3 M74,430 l5,3.500 M71,441 l8,-4 M64,439 l6,3" style="stroke-width:1.400"/>
<path class="k" d="M76,432 l6,-2 3.500,3 v6 l-5,3 -4.500,-2.500z M65,441.500 l5,2.500 v3.500 l-5,-2.500z"/>
<path class="l" d="M72,439 l5,-2.500 v3.500 l-5,2.500z" style="stroke:#eee;stroke-width:.8;fill:#fdfdfd"/>
<path class="l" d="M78,431 Q70,425 65,425 L59,428.500 M64,441.500 L60,442.500" style="stroke-width:.9"/>
<path class="k" d="M54,428.500 l4,-1.500 1.500,2.500 -4,1.800z M56,441 l3.500,-1.200 1.200,2.500 -3.500,1.500z"/>
<line class="t" x1="126.500" y1="442.500" x2="153.500" y2="442.500" style="stroke:#333"/>
<text class="n" x="154" y="447.3"><tspan style="fill:none;stroke:none">1</tspan></text><path d="M156.60,440.41 L158.68,438.20 V447.30" fill="none" stroke="#161616" stroke-width="1.10" stroke-linejoin="miter"/>
</g>
<!--HORN 17/18-->
<g id="horn">
<path class="w" d="M43.500,516 L43,487 Q43.500,482 48,482 Q52.500,482 53,487 L53,503 L46,510z" style="stroke-width:1.200"/>
<circle class="k" cx="48.700" cy="487.500" r="1.100"/>
<path class="k" d="M39.500,512 l2.500,-1 3,7 -2.500,1z"/>
<g transform="rotate(14 58 519.500)">
<ellipse cx="58" cy="519.500" rx="12" ry="19" fill="#fdfdfd" stroke="#1c1c1c" stroke-width="2.600"/>
<ellipse class="l" cx="59" cy="519.500" rx="9.600" ry="16"/>
<ellipse class="l" cx="60.500" cy="519.500" rx="6.600" ry="9.400" style="stroke-width:1.200"/>
<ellipse cx="60" cy="520" rx="3.200" ry="4.200" fill="#555" stroke="#222" stroke-width=".8"/>
<path d="M46.500,516 Q45,528 51,536.500" fill="none" stroke="#1c1c1c" stroke-width="3.200"/>
</g>
<path class="t" d="M53,488.800 L71.500,493" style="stroke:#333;stroke-dasharray:5 1.500 1.500 1.500"/>
<path class="k" d="M72,491.500 l3,-1.500 4,.5 2,2.500 -1,3 -3.500,1 -3,-1.500 -1.500,-2z"/>
<line class="t" x1="90.600" y1="491.200" x2="81.500" y2="493" style="stroke:#222"/>
<line class="t" x1="82" y1="515.600" x2="70.600" y2="513" style="stroke:#222"/>
<circle class="c" cx="98.500" cy="489.800" r="7.700"/><text x="91.5" y="494.3" font-size="12.500"><tspan style="fill:none;stroke:none">1</tspan>8</text><path d="M94.00,487.68 L96.00,485.55 V494.30" fill="none" stroke="#161616" stroke-width="1.06" stroke-linejoin="miter"/>
<circle class="c" cx="89.400" cy="518" r="7.500"/><text x="82.4" y="522.5" font-size="12.500"><tspan style="fill:none;stroke:none">1</tspan>7</text><path d="M84.90,515.88 L86.90,513.75 V522.50" fill="none" stroke="#161616" stroke-width="1.06" stroke-linejoin="miter"/>
</g>
<!--HARNESS 2-->
<g id="h2">
<path id="h2p" d="M296.600,441 L301.300,431.300 L306.900,420 L312.500,407.800 Q314,404.500 316.300,402.200 L331.300,386.300 L346.300,373.100 L365,353.400 L378,341.300" fill="none"/>
<use href="#h2p" style="stroke:#2a2a2a;stroke-width:5.800;fill:none;stroke-linecap:butt"/>
<use href="#h2p" style="stroke:#fdfdfd;stroke-width:3.900;fill:none;stroke-linecap:butt"/>
<path class="l" d="M300.4,438.8 L295.5,437.8 M302.9,433.5 L296.7,435.3 M305.9,427.5 L299.7,429.2 M307.1,425.0 L302.2,424.0 M310.7,417.4 L304.5,419.4 M312.5,413.5 L306.3,415.4 M314.7,408.8 L309.8,407.9 M317.8,404.3 L311.4,405.2 M322.1,399.6 L315.6,399.4 M324.0,397.5 L319.6,395.2 M329.7,391.5 L323.2,391.4 M332.6,388.4 L326.2,388.2 M336.4,385.0 L332.2,382.3 M340.7,381.2 L334.3,380.4 M345.8,376.7 L339.4,376.0 M347.9,374.9 L343.8,372.1 M353.8,368.7 L347.3,368.6 M356.7,365.6 L350.3,365.4 M360.3,361.8 L356.0,359.4 M364.3,357.6 L357.9,357.4 M369.0,352.9 L362.6,352.4 M371.1,351.0 L366.9,348.4 M377.1,345.4 L370.7,344.8 M380.3,342.4 L373.9,341.9" style="stroke-width:1"/>
<path class="l" d="M294,440 l5,2.500"/>
<!-- upper thin bundle -->
<path class="l" d="M377,340 L421,295.500 M379.700,342.200 L423.700,297.200 M378.300,341.100 L422.300,296.300" style="stroke-width:.95"/>
<path class="l" d="M422,296 Q424,288 425,279 M422.500,296 Q428,288 431.500,280 M423,296 Q433,286 440,276.500 M423.500,296.500 Q436,287 446.500,276.500 M424,297 Q440,287 452,277.500 M424,297.500 Q444,289 457,278.500" style="stroke-width:1.050"/>
<path class="k" style="stroke-width:1.200" d="M424.300,275 l1.500,-.2 .5,4 -1.500,.2z M431.500,276 l1.400,.4 -1,4 -1.400,-.4z M440.500,272.500 l1.300,.8 -2.200,3.500 -1.300,-.8z M447,272.500 l1.200,.9 -2.500,3.400 -1.200,-.9z M452.500,273.500 l1.100,1 -2.800,3.200 -1.100,-1z M458,275 l1,1.100 -3.200,2.800 -1,-1.100z"/>
<!-- dash dot axis -->
<path class="t" d="M362.500,291 L465,326" style="stroke:#333;stroke-dasharray:16 2.500 2.500 2.500"/>
<!-- right branch -->
<path class="l" d="M381,342.300 Q400,341.500 415,343 Q424,345 430,348.500 M381,342.800 Q400,344 418,350 M381,343.300 Q398,347 416,354.500 M381,343.800 Q398,350 415,359 M381,344.300 Q396,353 413,364 L416.500,368 M381,344.800 Q395,356 410,367 L413,370.500 M381,345.300 Q394,358 408,369 M425,360 L447,363.500 L455,365.500 M427,362.500 L445,366.500" style="stroke-width:1.100"/>
<path d="M418,351.500 l7,-3 11,2 5,3.500 -1,5.500 -8,3.500 -11,-2 -4,-4.500z" fill="#fdfdfd" stroke="#1a1a1a" stroke-width="1.700" stroke-linejoin="round"/>
<path class="k" d="M419,353 l8,2.500 v6.500 l-8,-3.500z M430,357.500 l9,-3 v4.500 l-8,3z M426,349.500 l5,-1.500 4,1 -6,2.500z"/>
<path class="b" d="M419,355.500 l9,2.500 12,-4 M428,358 v4.500 M424,349.500 l3,7.500 M431,350 l2,6 M421,359 l6,2 M433,357 l6,-2 M422,362 l-3,2.500 M426,363 l-3,3" style="stroke-width:1.300"/>
<path class="k" d="M434,349.500 l5,-1.500 2.500,2 -5,2z M421,353 l4,1.500 v2.500 l-4,-1.500z M414.500,367 l2.500,1.500 -2,3 -2.500,-1.500z M418.500,365 l2.500,1.500 -2,3 -2.500,-1.500z M449.500,362.500 l3,1 -1,2.500 -3,-1z M441,356 l3,1.500 -1,2 -3,-1.500z"/>
<path class="w" d="M456,363.500 l7,1.500 2,2.500 -1,3.500 -7,-1.500 -2,-2.500z" style="stroke-width:1.500;stroke:#1c1c1c"/>
<path class="k" d="M457.500,365.500 l4.500,1 v2.500 l-4.500,-1z"/>
<!-- left branch -->
<path class="l" d="M330.500,385.500 L326,358 L323,345 Q320,335 313.500,326 L311,323 M334,383 L329.300,357.500 L326.300,344.500 Q323,333 315.500,323.500 L313.500,321" style="stroke-width:.9"/>
<path class="l" d="M323,345 l3.300,-.5 M322,341 l3.300,-1 M326,358 l3.300,-.5 M325,353 l3.500,-.5 M330.500,385.500 l3.500,-2.500"/>
<path class="l" d="M311,323 L305,315.500 M313.500,321 L308,314" style="stroke-width:.8"/>
<path class="k" d="M302,311 l1.500,-1 3,4.500 -1.500,1z M306,310 l1.500,-1 3,4.500 -1.500,1z"/>
<path d="M308.500,341.500 l4,-1.500 2.500,2 v4 l-4,1.500 -2.500,-2z" fill="#fdfdfd" stroke="#1c1c1c" stroke-width="1.300"/>
<path class="k" d="M310,343.500 l3,-1 v3 l-3,1z"/>
<path class="l" d="M315,345 Q320,349 325.500,352.500 M314.500,347 Q319,351 325,354" style="stroke-width:.8"/>
<line class="t" x1="320" y1="408.800" x2="351" y2="408.800" style="stroke:#333"/>
<text class="n" x="352.500" y="413.800">2</text>
</g>

<!--INSET 34/35-->
<g id="inset">
<rect x="186" y="522" width="206" height="184" fill="#ffffff"/>
<!-- fender arc -->
<path class="w" d="M352,558 Q371,556 395,565.500 L401,569 L396,573 L400,577 L397,581 Q375,571 359.500,572.300z" style="stroke-width:.9"/>
<!-- main plate outline -->
<path class="w" d="M196,618 L200,605.500 L212.500,593 L237.500,578.700 L258,571.800 L273,563.600 L284,556 L289,549 L303,536.500 L311,538 L327.500,527 L332,523.400 L351,522.800 L353,526.200 L353,535 L356,545 L354,565 L362,573.600 L384,630 L390,660.700 L389,667 L356.500,666.200 L327.500,659.800 L300.300,649.800 L276.800,647 L255,649.800 L233,640 L218.500,634.500 L204.500,627 L197.500,624.800z" style="stroke-width:1.400;stroke:#222"/>
<path class="l" d="M200,618 L203.500,607.500 L214.500,596.600 L239,581.500 L259,574.500 L275,566 L286,558.500 M197.500,621 L218,629.500"/>
<path class="l" d="M380,605.500 L386,640 L386.500,661 M363,578 L381,628"/>
<!-- upper tray -->
<path class="l" d="M297.500,554.500 L336,535 M303,538 L334,524.500 M295.500,560 L333,542.700 M298.800,568 L334.500,551.600 M300,575 L333,560 M296.500,557 L334.500,538.500 M299.500,571 L333.500,555.500 M295.500,560 L300,575 M297.500,554.500 L295.500,560 M336,535 L333,560" style="stroke-width:.9"/>
<circle class="k" cx="306" cy="557" r=".7"/><circle class="k" cx="324" cy="548" r=".7"/>
<path d="M337.500,533.800 L345.500,533.800 L353.800,565.400 L349.600,569.500 L340,558.500z" fill="#fdfdfd" stroke="#1c1c1c" stroke-width="1.500" stroke-linejoin="round"/>
<path class="b" d="M341,538 l3,0 2,9 -3.500,0z M340,558.500 l6,-3 M345.500,533.800 l3,-2" style="stroke-width:1.100"/>
<path class="k" d="M351.500,540 l3,-.5 .5,3 -3,.5z M352,544.500 l3,-.5 .5,3.500 -3,.5z"/>
<path class="l" d="M283.500,557 Q279.500,572 284,588 M283.500,557 Q296,570 297.500,592 M284,588 Q290,594 297.500,592 M279,573 l-4,1 M293.500,560 L297,585" style="stroke-width:1.200"/>
<path class="k" d="M283,570 l4,-2 3,1.500 4,-1 1.500,4 -2,3 1,4 -3,3 -4,.5 -3,-2.500 -1.500,-4 1,-3z"/>
<path d="M285,572 l2.500,-1 M286,576 l3,-1 M289,579 l3,-1.500 M287,582 l3,-1 M291,573 l2,-.5" stroke="#eee" stroke-width=".9" fill="none"/>
<path class="l" d="M282,569 l-3,-3 M284,567 l-1,-4 M288,567 l0,-4" style="stroke-width:.9"/>
<path class="l" d="M271,590 q2,-3 4,0 M275.500,591 q2,-3 4,0 M270,588 L281,593" style="stroke-width:1.200"/>
<!-- 34 leaders -->
<path class="t" d="M279,546 L312.500,597 M277.500,546.500 L290,577" style="stroke:#222"/>
<!-- cylinders left -->
<path class="w" d="M214.600,605.500 Q212,598 217,596 Q222,595 224.900,600 L234.500,611 Q236,617 231,620 Q225,622 222.100,619.300z" style="stroke-width:1.300;stroke:#222"/>
<ellipse class="l" cx="216.500" cy="598.500" rx="4.600" ry="3" transform="rotate(35 216.500 598.500)" style="stroke-width:1.200"/>
<ellipse class="l" cx="218.500" cy="600.500" rx="5.200" ry="3.300" transform="rotate(35 218.500 600.500)" style="stroke-width:1"/>
<ellipse cx="229" cy="615.200" rx="6.200" ry="4.500" transform="rotate(35 229 615.200)" fill="#fdfdfd" stroke="#1c1c1c" stroke-width="1.800"/>
<ellipse class="l" cx="229.500" cy="616" rx="3" ry="2.200" transform="rotate(35 229.500 616)" style="stroke-width:1.200"/>
<path class="l" d="M220,609 Q223,604 228,606"/>
<path class="w" d="M238,590.400 Q239,583 244.100,582.800 Q249,582.500 252.400,586.300 L255.200,594.500 Q256,600 252,603 Q246,606 241,604 Q238.500,601 239.300,602.800z" style="stroke-width:1.300;stroke:#222"/>
<path class="l" d="M239.500,597 Q241,604.500 247,605 Q253,604 255,598 M242,600 q2.500,-3 5,-.5 q-1,3 -4,2 M248,602 q1,-4 5,-3 M251.500,596 l2,6" style="stroke-width:1.100"/>
<path class="w" d="M261.300,581.500 L267.500,576.600 Q272,575.500 275.800,579.400 L279.900,590.400 L270.300,594.500 L263.400,590.400z" style="stroke-width:1.200"/>
<path class="l" d="M268,592.500 q.5,-3 3,-2.500 q2,1.500 .5,3.500 M274,591 q.5,-3 2.500,-2.500 q1.500,1.500 .5,3" style="stroke-width:1"/>
<path class="l" d="M226.300,595.900 L229,587.600 L231.100,600 L233.800,591.800 L236.600,602.800 M255.200,590.400 L257.900,580.800 L260,593.100 L262.700,586.300" style="stroke-width:1.100"/>
<path class="l" d="M252.400,599.300 L256.500,601.400 L260,606.900 L261.300,615.200 L264.100,617.900 L266.200,616.500" style="stroke-width:1.400"/>
<!-- tab -->
<path class="l" d="M206.300,612.400 L214.600,610.700 L216,619.300 L208.400,621.100z"/><circle class="k" cx="213.200" cy="616.300" r=".9"/>
<!-- hose + cone -->
<path class="b" d="M230.400,617.900 Q235,621 236.600,628.900 L235.200,635.800 M234.500,615.500 Q240,621 240.500,628 L239,636.500" style="stroke-width:1.700"/>
<path d="M242.100,620 L245.500,619.300 L250.300,631.700 L240.700,639.200 L238,635.800z" fill="#aaa" stroke="#1c1c1c" stroke-width="1.300" stroke-linejoin="round"/>
<path class="l" d="M243.500,623 l4.500,8 M242,626.500 l4,7.500 M241,631 l2.500,5 M245.500,621 l3.500,7" style="stroke-width:.9"/>
<!-- horizontal tube -->
<path class="w" d="M190.500,634.400 L224.900,623.400 L227,626 L218,633 L205.600,637 L193.300,641.300z" style="stroke-width:1.100"/>
<!-- strap down -->
<path class="w" d="M208.400,644 L220,671.800 L233.400,667.300 L222.100,638.500" style="stroke-width:1.100"/>
<!-- lower triangle plate -->
<path class="l" d="M245.500,616.500 L295,597.300 M249.600,622 L291.300,633.500 L324,647 L349.300,652.600 L363.800,654.400 M291.300,643.500 L367.400,658 M289,645.500 L365.500,660.500 M300,640 v6 M322,648 v6 M334,650 v3" style="stroke-width:1"/>
<path class="l" d="M282,619 Q281,615 290,611 L300,607 M282,619 Q290,628 320,636 Q350,641 367,633 M283.500,620 Q292,627 320,634" style="stroke-width:1.400;stroke:#1c1c1c"/>
<!-- diagonal tube -->
<path class="w" d="M318,580.500 Q313,583 315.300,588.800 L362,627.300 Q368,629 370.300,621.800z" style="stroke-width:1.100"/>
<!-- motor right -->
<path class="w" d="M339,584 Q340,578 346,578.500 L360,587 Q365,592 362.500,598 Q359,603 353,601 L341,592 Q338,588 339,584z" style="stroke-width:1.300;stroke:#222"/>
<path class="l" d="M343,580 Q339,586 343,593.500 M347,581 Q343,588 347,596 M356,586 Q351,593 356,601" style="stroke-width:1"/>
<path class="k" d="M357,590 q4,2 4,7 q-2,3 -5,2 q3,-4 1,-9z"/>
<ellipse class="w" cx="367.500" cy="594.300" rx="5.500" ry="4" style="stroke-width:1"/>
<ellipse class="l" cx="367.500" cy="593" rx="2.500" ry="1.700"/>
<path class="l" d="M362,596 Q362,604 370,603 Q374,601 373,595"/>
<path class="w" d="M344,569 l2.500,-1.500 2.500,11 -3,1.500z M354.500,567.500 l3,-1.500 3,9 2,7.500 -3,1.500 -2.500,-8z" style="stroke-width:1.400;stroke:#1c1c1c"/>
<path class="l" d="M356,569 l4.500,14 M346,578 l8,-4" style="stroke-width:1"/>
<!-- relays cluster -->
<g style="stroke:#1a1a1a;stroke-width:1.300;stroke-linejoin:round">
<path d="M296,597 l8,-4 9,3.500 v10 l-8,4 -9,-3.500z" fill="#222"/>
<path d="M296,597 l8,-4 9,3.500 -8,4z" fill="#fdfdfd"/>
<path d="M313,600.500 l8,-4 10,3.500 v9.500 l-8,4 -10,-3.500z" fill="#222"/>
<path d="M313,600.500 l8,-4 10,3.500 -8,4z" fill="#fdfdfd"/>
<path d="M330,604.500 l7,-3.500 8.500,3.500 v11 l-7,4 -8.500,-3.500z" fill="#222"/>
<path d="M330,604.500 l7,-3.500 8.500,3.500 -7,3.500z" fill="#fdfdfd"/>
<path d="M298,618.500 l6,-3 7,3 v7 l-6,3 -7,-3z" fill="#222"/>
<path d="M298,618.500 l6,-3 7,3 -6,3z" fill="#fdfdfd"/>
<path d="M317.500,622.500 l8,-3.500 9,4 v13 l-8,4 -9,-4z" fill="#222"/>
<path d="M317.500,622.500 l8,-3.500 9,4 -8,3.500z" fill="#fdfdfd"/>
</g>
<path d="M297.500,602 v4 M299.500,603 v4 M301.500,604 v4 M303.500,604.800 v4 M306,604 l6,-3 M306,607 l6,-3 M314.500,605.500 v4 M316.500,606.300 v4 M318.500,607 v4 M320.500,607.800 v4 M324,607.500 l6,-3 M324,610.500 l6,-3 M331.500,610 v5 M333.500,610.800 v5 M335.500,611.600 v5 M339.500,612.500 l5,-2.500 M339.500,616 l5,-2.500 M299.500,623 v3 M301.500,624 v3 M306,625.500 l4,-2 M319,628 v7 M321,629 v7 M323,630 v7 M327.500,631 l6,-3 M327.500,635.500 l6,-3" stroke="#f0f0f0" stroke-width=".8" fill="none"/>
<path class="l" d="M305,593 L310,584 L318,581 M322,596 l4,-7"/>
<path class="b" d="M345,606 L373,621.500 Q378,625 375.500,629.500 Q372,634.500 366,633.500 L347.500,621.500" style="stroke-width:1.800"/>
<!-- cone right + grommets -->
<path d="M356,640 l8,-1 3,10 -8,2z" fill="#bbb" stroke="#222" stroke-width="1.100"/>
<path class="l" d="M358,642 l6,6 M357,646 l4,4 M361,640 l4,5"/>
<ellipse class="w" cx="361.500" cy="650" rx="7.500" ry="3.500" style="stroke-width:1"/>
<path class="l" d="M354,650 Q361,644 369,650" />
<ellipse class="w" cx="266" cy="641" rx="9" ry="5.400" style="stroke-width:1.300;stroke:#222"/>
<ellipse class="l" cx="266" cy="639.500" rx="6" ry="3.300"/><circle class="k" cx="266" cy="639.500" r=".9"/>
<path class="l" d="M257,641 v2.500 Q266,650 275,643.500 v-2.500"/>
<ellipse class="w" cx="380" cy="656" rx="8.200" ry="5" style="stroke-width:1.300;stroke:#222"/>
<ellipse class="l" cx="380" cy="654.500" rx="5.400" ry="3"/><circle class="k" cx="380" cy="654.500" r=".9"/>
<path class="l" d="M372,656 v2.500 Q380,665 388,658.500 v-2.500"/>
<!-- screws & bolts -->
<ellipse class="k" cx="213.200" cy="559.400" rx="3.600" ry="2.300"/>
<path class="k" d="M211.500,561 l3,.5 -1.500,6.500 -1.800,-.3z"/>
<path class="t" d="M210.500,568.500 L208.500,577.300 L222,584.200" style="stroke:#222;stroke-width:.9"/>
<path class="t" d="M240,649.300 L232.500,684 M268.600,672.500 L267.500,664 M268.600,672.500 L298.500,627.200 M331,661.600 L329,671 M357.400,667 L353.800,686" style="stroke:#222;stroke-width:.9"/>

<use href="#fb" x="231" y="691" transform="rotate(8 231 691)"/>
<use href="#fb" x="328" y="682" transform="rotate(5 328 682)"/>
<use href="#fb" x="351.500" y="697" transform="rotate(8 351.500 697)"/>
<path class="k" d="M264,652.500 h5.500 v3 h-1.200 v8 h-3.200 v-8 h-1.100z"/>
<!-- labels -->
<line class="t" x1="396" y1="616.300" x2="362.500" y2="610" style="stroke:#222"/>
<circle class="c" cx="275" cy="538.600" r="8.800"/><text class="n" x="267.800" y="543.400">34</text>
<circle class="c" cx="405" cy="617.500" r="9"/><text class="n" x="397.800" y="622.300">35</text>
</g>

<!--SECTIONS-->
</g>
</svg>
</body></html>
